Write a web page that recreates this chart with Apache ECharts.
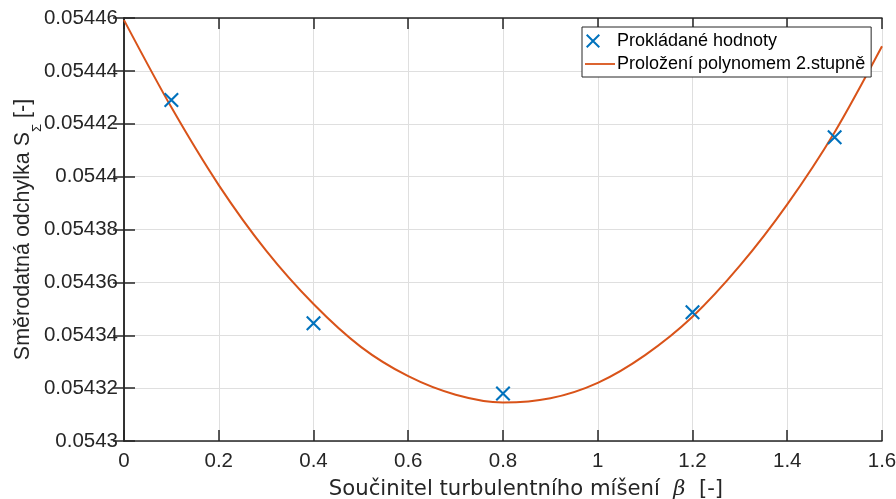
<!DOCTYPE html>
<html>
<head>
<meta charset="utf-8">
<script src="https://cdn.jsdelivr.net/npm/echarts@6/dist/echarts.min.js"></script>
<style>
  html, body { margin: 0; padding: 0; background: #fff; }
  #chart { width: 896px; height: 499px; }
</style>
</head>
<body>
<div id="chart"></div>
<script>
// proložené body (měření)
const pointX = [0.1, 0.4, 0.8, 1.2, 1.5];
const pointY = [0.054429, 0.0543445, 0.054318, 0.0543487, 0.0544149];

// křivka polynomu 2. stupně
const curveX = [0, 0.1, 0.2, 0.3, 0.4, 0.5, 0.6, 0.7, 0.8, 0.9, 1.0, 1.1, 1.2, 1.3, 1.4, 1.5, 1.6];
const curveY = [0.0544592, 0.0544262, 0.0543968, 0.054372, 0.0543518, 0.0543356, 0.0543245, 0.0543175,
                0.05431455, 0.05431615, 0.054322, 0.0543325, 0.054347, 0.0543663, 0.0543895, 0.0544168, 0.0544493];

// popisky os
const xTicks = [0, 0.2, 0.4, 0.6, 0.8, 1.0, 1.2, 1.4, 1.6];
const yTicks = [0.0543, 0.05432, 0.05434, 0.05436, 0.05438, 0.0544, 0.05442, 0.05444, 0.05446];

const FONT = '"Liberation Sans", Arial, Helvetica, sans-serif';
const WIDE = '"DejaVu Sans", sans-serif';
const SERIF = '"DejaVu Serif", "Liberation Serif", serif';
const TXT = '#262626';
const AX = '#262626';
const GRID = '#dfdfdf';
const BLUE = '#0072BD';
const ORANGE = '#D95319';

const xStep = xTicks[1] - xTicks[0];
const yStep = yTicks[1] - yTicks[0];

const xMarker = 'path://M0,10 L10,0 L100,90 L90,100 Z M90,0 L100,10 L10,100 L0,90 Z';
// ikony do legendy v rámečku 30x14
const xLegendIcon = 'path://M0,0 M1,1.4 L2.4,0 L15,12.6 L13.6,14 Z M13.6,0 L15,1.4 L2.4,14 L1,12.6 Z M30,14';
const lineLegendIcon = 'path://M0,0 M0,6.1 L30,6.1 L30,7.9 L0,7.9 Z M30,14';

function fmtY(v) {
    return String(parseFloat(v.toFixed(5)));
}

const xBase = {
    type: 'value',
    min: xTicks[0],
    max: xTicks[xTicks.length - 1],
    interval: xStep,
    axisLine: { show: true, lineStyle: { color: AX, width: 1.5 } },
    axisTick: { show: true, inside: true, length: 11, lineStyle: { color: AX, width: 1.5 } }
};
const yBase = {
    type: 'value',
    min: yTicks[0],
    max: yTicks[yTicks.length - 1],
    interval: yStep,
    axisLine: { show: true, lineStyle: { color: AX, width: 1.5 } },
    axisTick: { show: true, inside: true, length: 11, lineStyle: { color: AX, width: 1.5 } }
};

const option = {
    animation: false,
    backgroundColor: '#fff',
    grid: { left: 124, right: 14, top: 18, bottom: 58, containLabel: false, outerBoundsMode: 'none' },
    legend: {
        orient: 'vertical',
        left: 582,
        top: 27,
        padding: [4, 6, 3, 3],
        itemGap: 3,
        itemWidth: 30,
        itemHeight: 14,
        backgroundColor: '#fff',
        borderColor: '#262626',
        borderWidth: 1,
        textStyle: { fontFamily: FONT, fontSize: 18, color: '#000', lineHeight: 20, padding: [0, 0, 0, -3] },
        data: [
            { name: 'Prokládané hodnoty', icon: xLegendIcon, itemStyle: { color: BLUE, opacity: 1 } },
            { name: 'Proložení polynomem 2.stupně', icon: lineLegendIcon, itemStyle: { color: ORANGE } }
        ]
    },
    xAxis: [
        Object.assign({}, xBase, {
            position: 'bottom',
            name: 'Součinitel turbulentního míšení  {b|β}  [-]',
            nameLocation: 'middle',
            nameGap: 38,
            nameMoveOverlap: false,
            nameTextStyle: {
                fontFamily: WIDE, fontSize: 21.2, color: TXT, padding: [0, 0, 0, 46],
                rich: { b: { fontFamily: SERIF, fontStyle: 'italic', fontSize: 21, color: TXT } }
            },
            axisLabel: { fontFamily: FONT, fontSize: 20.5, color: TXT, margin: 10, formatter: v => String(parseFloat(v.toFixed(1))) },
            splitLine: { show: true, lineStyle: { color: GRID, width: 1 } }
        }),
        Object.assign({}, xBase, {
            position: 'top',
            axisLabel: { show: false },
            splitLine: { show: false }
        })
    ],
    yAxis: [
        Object.assign({}, yBase, {
            position: 'left',
            name: '{t|Směrodatná odchylka S}{s|Σ}{t| [-]}',
            nameLocation: 'middle',
            nameRotate: 90,
            nameGap: 88,
            nameMoveOverlap: false,
            nameTextStyle: {
                rich: {
                    t: { fontFamily: FONT, fontSize: 21.5, color: TXT, lineHeight: 24, verticalAlign: 'top' },
                    s: { fontFamily: FONT, fontSize: 13, color: TXT, lineHeight: 13, verticalAlign: 'top', padding: [19, 0, 0, 0] }
                }
            },
            axisLabel: { fontFamily: FONT, fontSize: 20.5, color: TXT, margin: 6, formatter: fmtY },
            splitLine: { show: true, lineStyle: { color: GRID, width: 1 } }
        }),
        Object.assign({}, yBase, {
            position: 'right',
            axisLabel: { show: false },
            splitLine: { show: false }
        })
    ],
    series: [
        {
            name: 'Prokládané hodnoty',
            type: 'scatter',
            xAxisIndex: 0,
            yAxisIndex: 0,
            symbol: xMarker,
            symbolSize: 15,
            itemStyle: { color: BLUE, opacity: 1 },
            z: 5,
            data: pointX.map((x, i) => [x, pointY[i]])
        },
        {
            name: 'Proložení polynomem 2.stupně',
            type: 'line',
            xAxisIndex: 0,
            yAxisIndex: 0,
            smooth: 0.3,
            symbol: 'none',
            lineStyle: { color: ORANGE, width: 2 },
            itemStyle: { color: ORANGE },
            z: 3,
            data: curveX.map((x, i) => [x, curveY[i]])
        }
    ]
};

const myChart = echarts.init(document.getElementById('chart'));
myChart.setOption(option);
</script>
</body>
</html>
